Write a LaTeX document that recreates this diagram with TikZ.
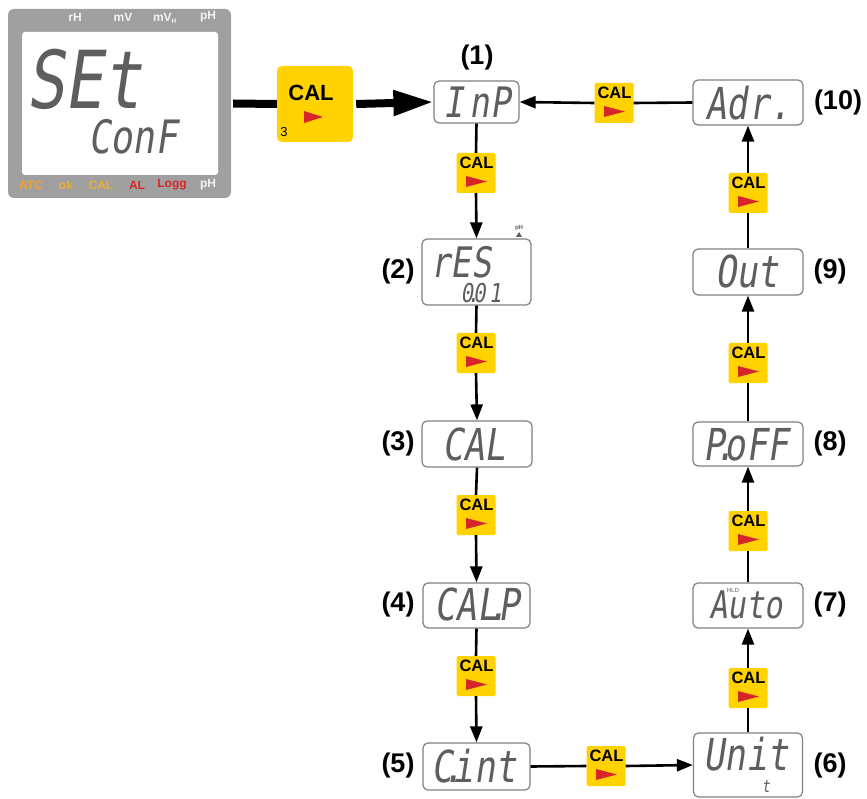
\documentclass[tikz,border=0pt]{standalone}
\usepackage{fontspec}
\setmainfont{Liberation Sans}
\newfontfamily\segfont[FakeSlant=0.15,FakeStretch=0.8]{DejaVu Sans Mono}
\usetikzlibrary{arrows.meta}
\definecolor{calyellow}{HTML}{FFD200}
\definecolor{calred}{HTML}{D7262A}
\definecolor{seggray}{HTML}{5E5E5E}
\definecolor{boxgray}{HTML}{808080}
\definecolor{lcdgray}{HTML}{A0A0A0}
\definecolor{lcdwhite}{HTML}{F4F4F4}
\definecolor{atcorange}{HTML}{F2A12A}
\definecolor{okorange}{HTML}{E8AE3C}
\definecolor{alred}{HTML}{D7262A}
\newcommand{\sdot}{\makebox[0pt]{.}}
\begin{document}
\begin{tikzpicture}[x=1pt,y=-1pt,
  disp/.style={draw=boxgray, line width=1.2pt, rounded corners=5pt, fill=white, inner sep=0pt},
  segtxt/.style={font=\segfont\fontsize{44}{44}\selectfont, text=seggray, inner sep=0pt, anchor=base},
  segsmall/.style={font=\segfont\fontsize{26}{26}\selectfont, text=seggray, inner sep=0pt, anchor=base},
  lbl/.style={font=\fontsize{27}{27}\selectfont\bfseries, inner sep=0pt},
  conn/.style={line width=2.6pt},
  arr/.style={conn, -{Triangle[length=16pt,width=12pt]}},
  toplbl/.style={font=\fontsize{12}{12}\selectfont\bfseries, inner sep=0pt},
  calsmall/.pic={
    \node[fill=calyellow, rounded corners=1.5pt, minimum width=39pt, minimum height=40pt, inner sep=0pt] (-b) at (0,0) {};
    \node[font=\fontsize{16.5}{16.5}\selectfont\bfseries, inner sep=0pt] at (0.5,-10) {CAL};
    \fill[calred] (-10,3) -- (11,8.5) -- (-10,14) -- cycle;
  }
]
\useasboundingbox (0,0) rectangle (867,799);

% big LCD
\node[fill=lcdgray, rounded corners=6pt, minimum width=223pt, minimum height=189pt, inner sep=0pt] (lcd) at (119.5,103.5) {};
\node[fill=white, rounded corners=3pt, minimum width=196pt, minimum height=143pt, inner sep=0pt] (lcdin) at (120,103.5) {};
\node[toplbl, text=lcdwhite] (trh) at (75,17) {rH};
\node[toplbl, text=lcdwhite] (tmv) at (123,17) {mV};
\node[toplbl, text=lcdwhite] (tmvh) at (165,18) {mV\textsubscript{\fontsize{6.5}{6.5}\selectfont H}};
\node[toplbl, text=lcdwhite] (tph) at (208,17) {pH};
\node[toplbl, text=atcorange] (batc) at (31,185) {ATC};
\node[toplbl, text=okorange] (bok) at (66,185) {ok};
\node[toplbl, text=okorange] (bcal) at (101,185) {CAL};
\node[toplbl, text=alred] (bal) at (137,185) {AL};
\node[toplbl, text=alred] (blogg) at (172,185) {Logg};
\node[toplbl, text=lcdwhite] (bph) at (208,185) {pH};
\node[font=\segfont\fontsize{80}{80}\selectfont, text=seggray, inner sep=0pt, anchor=base] (set) at (84,109) {SEt};
\node[font=\segfont\fontsize{46}{46}\selectfont, text=seggray, inner sep=0pt, anchor=base] (conf) at (133,154) {ConF};

% big CAL button
\node[fill=calyellow, rounded corners=5pt, minimum width=76pt, minimum height=76pt, inner sep=0pt] (bigcal) at (315,104) {};
\node[font=\fontsize{22}{22}\selectfont\bfseries, inner sep=0pt] (bigcaltxt) at (311,93) {CAL};
\fill[calred] (304,111) -- (323,117) -- (304,123) -- cycle;
\node[font=\fontsize{13}{13}\selectfont, inner sep=0pt] (three) at (284,132) {3};

% display boxes
\node[disp, minimum width=85pt, minimum height=42pt] (b1) at (476.5,102) {};
\node[disp, minimum width=109pt, minimum height=66pt] (b2) at (476.5,272) {};
\node[disp, minimum width=110pt, minimum height=46pt] (b3) at (477,444) {};
\node[disp, minimum width=107pt, minimum height=45pt] (b4) at (476.5,605.5) {};
\node[disp, minimum width=107pt, minimum height=47pt] (b5) at (476.5,766.5) {};
\node[disp, minimum width=109pt, minimum height=64pt] (b6) at (748,765) {};
\node[disp, minimum width=110pt, minimum height=45pt] (b7) at (748,605.5) {};
\node[disp, minimum width=110pt, minimum height=44pt] (b8) at (748,444) {};
\node[disp, minimum width=110pt, minimum height=46pt] (b9) at (748,272) {};
\node[disp, minimum width=110pt, minimum height=45pt] (b10) at (748,102.5) {};

% display texts
\node[segtxt, font=\segfont\fontsize{42}{42}\selectfont] (t1) at (477,118) {I\hspace{6pt}nP};
\node[segtxt, font=\segfont\fontsize{42}{42}\selectfont] (t2) at (461,278) {rES};
\node[segsmall] (t2b) at (481,303) {0\sdot 0\hspace{3pt}1};
\node[font=\fontsize{6}{6}\selectfont\bfseries, text=seggray, inner sep=0pt] (phind) at (519,228) {pH};
\fill[seggray] (516,237) -- (522,237) -- (519,232) -- cycle;
\node[segtxt] (t3) at (474,460) {CAL};
\node[segtxt] (t4) at (477,620) {CAL\sdot P};
\node[segtxt] (t5) at (474,782) {C\sdot int};
\node[segtxt] (t6) at (746,770) {Unit};
\node[font=\segfont\fontsize{17}{17}\selectfont, text=seggray, inner sep=0pt, anchor=base] (t6b) at (766,792) {t};
\node[segtxt, font=\segfont\fontsize{38}{38}\selectfont] (t7) at (746,618) {Auto};
\node[font=\fontsize{6}{6}\selectfont\bfseries, text=seggray!70, inner sep=0pt] (hld) at (733,590) {HLD};
\node[segtxt] (t8) at (746,460) {P\sdot oFF};
\node[segtxt] (t9) at (747,288) {Out};
\node[segtxt] (t10) at (748,120) {Adr.};

% labels
\node[lbl] (l1) at (477,58) {(1)};
\node[lbl] (l2) at (398,272) {(2)};
\node[lbl] (l3) at (398,444) {(3)};
\node[lbl] (l4) at (398,605) {(4)};
\node[lbl] (l5) at (398,766) {(5)};
\node[lbl] (l6) at (830,766) {(6)};
\node[lbl] (l7) at (830,605) {(7)};
\node[lbl] (l8) at (830,444) {(8)};
\node[lbl] (l9) at (830,272) {(9)};
\node[lbl] (l10) at (838,103) {(10)};

% CAL buttons
\pic (c1) at (476,173) {calsmall};
\pic (c2) at (476,353) {calsmall};
\pic (c3) at (476,515) {calsmall};
\pic (c4) at (476,676) {calsmall};
\pic (c5) at (606,766) {calsmall};
\pic (c6) at (748,688) {calsmall};
\pic (c7) at (748,531) {calsmall};
\pic (c8) at (748,363) {calsmall};
\pic (c9) at (748,193) {calsmall};
\pic (c10) at (614,103) {calsmall};

% connectors
\draw[line width=8pt] (lcd.east) ++(2,0) -- (bigcal.west);
\draw[line width=8pt, -{Triangle[length=40pt,width=24pt]}] (bigcal.east) ++(3,0) -- (b1.west);
\draw[conn] (b1.south) -- (c1-b.north);
\draw[arr] (c1-b.south) -- (b2.north);
\draw[conn] (b2.south) -- (c2-b.north);
\draw[arr] (c2-b.south) -- (b3.north);
\draw[conn] (b3.south) -- (c3-b.north);
\draw[arr] (c3-b.south) -- (b4.north);
\draw[conn] (b4.south) -- (c4-b.north);
\draw[arr] (c4-b.south) -- (b5.north);
\draw[conn] (b5.east) -- (c5-b.west);
\draw[arr] (c5-b.east) -- (b6.west);
\draw[conn] (b6.north) -- (c6-b.south);
\draw[arr] (c6-b.north) -- (b7.south);
\draw[conn] (b7.north) -- (c7-b.south);
\draw[arr] (c7-b.north) -- (b8.south);
\draw[conn] (b8.north) -- (c8-b.south);
\draw[arr] (c8-b.north) -- (b9.south);
\draw[conn] (b9.north) -- (c9-b.south);
\draw[arr] (c9-b.north) -- (b10.south);
\draw[conn] (b10.west) -- (c10-b.east);
\draw[arr] (c10-b.west) -- (b1.east);
\end{tikzpicture}
\end{document}
